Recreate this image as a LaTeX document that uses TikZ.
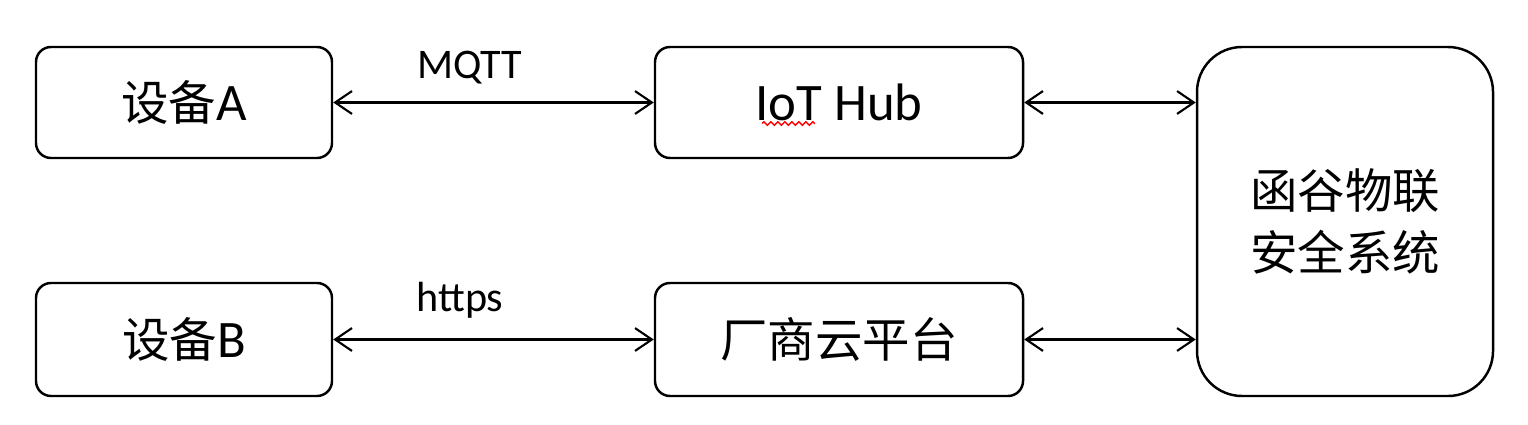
\documentclass[tikz,border=0pt]{standalone}
\usepackage{fontspec}
\setmainfont{Carlito}
\newfontfamily\cjk{Noto Sans CJK SC}[Scale=0.9]
\usepackage{tikz}
\usetikzlibrary{calc,arrows.meta,decorations.pathmorphing}

\begin{document}
\begin{tikzpicture}[
    box/.style={draw,line width=0.7pt,rounded corners=0.15cm,align=center,
      minimum width=2.96cm,minimum height=1.11cm,font=\fontsize{15}{16}\selectfont},
    link/.style={{Straight Barb[length=4.8pt,width=6.5pt]}-{Straight Barb[length=4.8pt,width=6.5pt]},line width=0.6pt},
    proto/.style={font=\fontsize{12}{14}\selectfont}
  ]
            \useasboundingbox (0,0) rectangle (15.28,4.24);
            \node[box] (devA) at (1.84,3.215){{\cjk 设备}A};
            \node[box,minimum width=3.68cm] (hub) at (8.39,3.215){IoT Hub};
            \node[box,minimum height=1.13cm] (devB) at (1.84,0.845){{\cjk 设备}B};
            \node[box,minimum width=3.68cm,minimum height=1.13cm] (cloud) at (8.39,0.845){\cjk 厂商云平台};
            \node[box,rounded corners=0.45cm,minimum height=3.49cm,
              font=\fontsize{15}{17.6}\selectfont\cjk] (sys) at (13.45,2.025){函谷物联\\安全系统};

            \node[proto] (mqtt) at (4.70,3.56){MQTT};
            \node[proto] (https) at (4.60,1.24){https};

            \draw[link] (devA) -- (hub);
            \draw[link] (devB) -- (cloud);
            \draw[link] (hub.east) -- (hub.east -| sys.west);
            \draw[link] (cloud.east) -- (cloud.east -| sys.west);

            \draw[red,line width=0.4pt,decorate,decoration={zigzag,amplitude=0.5pt,segment length=2pt}]
              ($(hub.center)+(-0.77,-0.21)$) -- ($(hub.center)+(-0.24,-0.21)$);
          \end{tikzpicture}
\end{document}
